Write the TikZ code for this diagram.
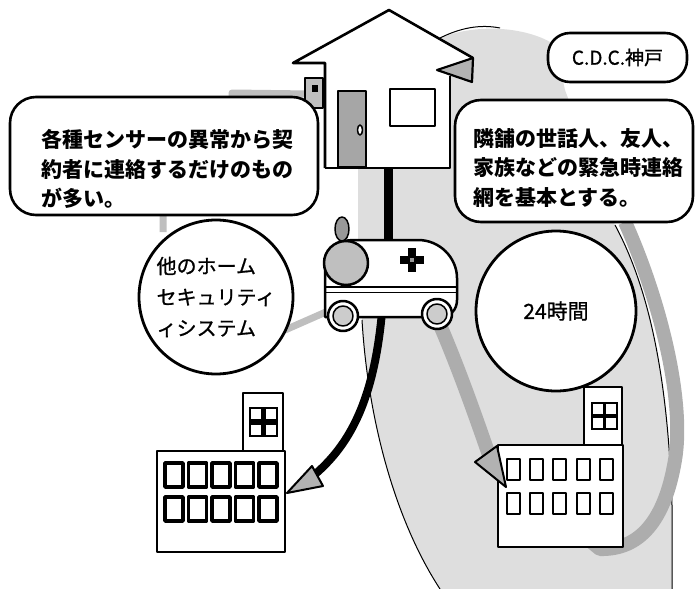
\documentclass[tikz,border=0pt]{standalone}
\usepackage{fontspec}
\setmainfont{Noto Sans CJK JP}
\newfontfamily\jpmed{Noto Sans CJK JP}[FakeBold=0.9]
\begin{document}
\begin{tikzpicture}[x=1pt, y=-1pt, line join=round,
  callout/.style={draw, line width=2.6pt, fill=white, rounded corners=26pt},
  ring/.style={draw, circle, line width=2.8pt, fill=white},
  band/.style={line width=14pt, draw=black!32},
  thinband/.style={line width=7pt, draw=black!25},
  win/.style={draw, line width=3.5pt, fill=white},
  smallwin/.style={draw, line width=2.4pt, fill=white},
  big/.style={font=\fontsize{21}{29.5}\selectfont\bfseries}]
\useasboundingbox (0,0) rectangle (699,589);

% shaded area under the house
\fill[black!13] (358,168) -- (358,245) -- (362,320) .. controls (368,420) and (395,520) .. (440,589)
  -- (672,589) -- (672,505) .. controls (668,380) and (650,290) .. (615,225)
  -- (565,90) -- (555,45) .. controls (530,28) and (480,22) .. (440,38) -- (440,168) -- cycle;
\draw[line width=1pt] (362,320) .. controls (368,420) and (395,520) .. (440,589);
\draw[line width=1pt] (615,225) .. controls (650,290) and (668,380) .. (672,505) -- (672,589);
\draw[line width=1pt] (440,38) .. controls (460,28) and (480,24) .. (500,28);

% links
\draw[thinband] (310,94) -- (232,93) -- (232,140) -- (163,190) -- (163,232);
\draw[thinband] (285,330) -- (335,308);
\draw[band] (625,222) .. controls (660,300) and (685,400) .. (675,460)
  .. controls (665,520) and (640,550) .. (600,549) -- (540,500)
  -- (490,458) .. controls (470,400) and (455,360) .. (440,325);

% house
\fill[white] (325,168) -- (325,63) -- (293,63) -- (389,10) -- (473,58) -- (450,70) -- (450,168) -- cycle;
\draw[line width=2.6pt] (325,168) -- (325,63) -- (293,63) -- (389,10) -- (473,58);
\draw[line width=2.6pt] (450,76) -- (450,168) -- (325,168);
\filldraw[fill=black!30, line width=2.2pt] (437,70) -- (473,58) -- (472,82) -- cycle;
\filldraw[fill=black!25, line width=2pt] (305,78) rectangle (323,108);
\fill (312,85) rectangle (318,92);
\filldraw[fill=black!35, line width=2.4pt] (338,91) rectangle (366,167);
\filldraw[fill=white, line width=1.5pt] (360,130) ellipse (2.5 and 5);
\filldraw[fill=white, line width=2.4pt] (390,89) rectangle (435,126);

% house to ambulance, ambulance to office
\draw[line width=9pt] (388,168) -- (388,242);
\draw[line width=8pt] (382,312) .. controls (374,400) and (350,445) .. (313,476);
\filldraw[fill=black!30, line width=2pt] (287,493) -- (312,466) -- (323,486) -- cycle;

% ambulance
\filldraw[fill=black!40, line width=1.5pt] (342,229) ellipse (7 and 12);
\filldraw[fill=white, line width=2.5pt] (325,317) -- (325,268) .. controls (325,250) and (335,240) .. (355,240)
  -- (418,240) .. controls (440,240) and (457,258) .. (457,278) -- (457,300)
  .. controls (457,310) and (450,317) .. (440,317) -- cycle;
\draw[line width=2.2pt] (325,287) -- (457,287);
\draw[line width=1pt] (325,292) -- (457,292);
\filldraw[fill=black!25, line width=2.5pt] (346,263) circle (22);
\fill (408,248) rectangle (416,272);
\fill (400,256) rectangle (424,264);
\fill[black!40] (410,258) rectangle (414,262);
\foreach \wx/\wy in {343/316, 437/314} {
  \filldraw[fill=white, line width=2.5pt] (\wx,\wy) circle (15);
  \filldraw[fill=black!20, line width=1.5pt] (\wx,\wy) circle (10);
}

% captions
\node[callout, minimum width=308, minimum height=118] (sensor) at (164,156) {};
\node[big, anchor=west, align=left] (sensortext) at (38,169)
  {各種センサーの異常から契\\約者に連絡するだけのもの\\が多い。};
\node[callout, minimum width=238, minimum height=122] (network) at (574,161) {};
\node[big, anchor=west, align=left] (networktext) at (470,168)
  {隣舗の世話人、友人、\\家族などの緊急時連絡\\網を基本とする。};
\node[draw, line width=2.6pt, fill=white, rounded corners=22pt, minimum width=139, minimum height=49,
  font=\jpmed\fontsize{19}{22}\selectfont] (cdc) at (617.5,57.5) {C.D.C.神戸};
\node[ring, minimum size=154, align=left, font=\jpmed\fontsize{20}{31}\selectfont] (other) at (216,297)
  {他のホーム\\セキュリティ\\ィシステム};
\node[ring, minimum size=160, font=\jpmed\fontsize{21}{24}\selectfont] (allday) at (556,311) {24時間};

% office buildings
\filldraw[fill=white, line width=2pt] (243,393) rectangle (283,451);
\filldraw[fill=white, line width=2pt] (157,451) rectangle (285,552);
\fill (249,407) rectangle (278,437);
\foreach \qx/\qy in {251/409, 266/409, 251/425, 266/425}
  \fill[white] (\qx,\qy) rectangle ++(10,10);
\foreach \x in {165,188.5,212,235.5,259} {
  \draw[win] (\x,463) rectangle ++(18,24);
  \draw[win] (\x,497) rectangle ++(18,24);
}
\fill[white] (505,450) rectangle (620,545);
\filldraw[fill=white, line width=2pt] (584,387) rectangle (622,445);
\filldraw[fill=white, line width=2pt] (498,445) rectangle (623,547);
\fill (591,402) rectangle (618,430);
\foreach \qx/\qy in {593/404, 606/404, 593/418, 606/418}
  \fill[white] (\qx,\qy) rectangle ++(10,10);
\foreach \x in {507,530,553,577,600} {
  \draw[smallwin] (\x,459) rectangle ++(13,21);
  \draw[smallwin] (\x,493) rectangle ++(13,21);
}
\filldraw[fill=black!30, line width=2pt] (475,462) -- (497,446) -- (506,487) -- cycle;
\end{tikzpicture}
\end{document}
